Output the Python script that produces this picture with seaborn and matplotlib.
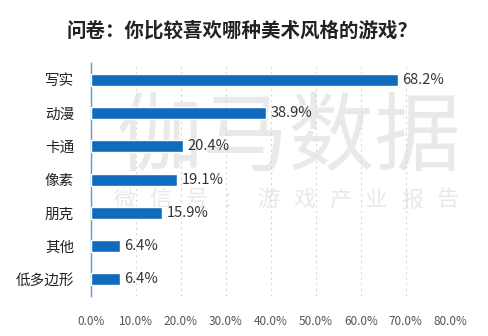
import matplotlib
matplotlib.use("Agg")
import matplotlib.pyplot as plt
import seaborn as sns
import pandas as pd

categories = ["写实", "动漫", "卡通", "像素", "朋克", "其他", "低多边形"]
values = [68.2, 38.9, 20.4, 19.1, 15.9, 6.4, 6.4]
xticks = [0, 10, 20, 30, 40, 50, 60, 70, 80]
title = "问卷：你比较喜欢哪种美术风格的游戏？"
wm_main = "伽马数据"
wm_sub = "微信号：游戏产业报告"

sns.set_theme(style="white")
plt.rcParams['font.family'] = ['Noto Sans CJK SC', 'DejaVu Sans']

df = pd.DataFrame({"cat": categories, "val": values})

fig = plt.figure(figsize=(4.89, 3.36), dpi=100)
ax = fig.add_axes([0.186, 0.119, 0.736, 0.693])
ax.patch.set_alpha(0)

# watermark (behind axes)
wm_color = "#e9e9e9"
fig.text(0.59, 0.585, wm_main, fontsize=62, color=wm_color, ha="center", va="center", zorder=-5)
n = len(wm_sub)
x0, x1 = 125 / 489, 448 / 489
for i, ch in enumerate(wm_sub):
    fig.text(x0 + (x1 - x0) * i / (n - 1), 0.405, ch, fontsize=16, color=wm_color,
             ha="center", va="center", zorder=-5)

sns.barplot(data=df, x="val", y="cat", color="#0f6cbd", saturation=1, width=0.36, ax=ax, zorder=3)

for i, v in enumerate(values):
    ax.text(v + 1.0, i, f"{v:.1f}%", va="center", ha="left", fontsize=10.5, color="#333333", zorder=4)

ax.set_xlim(0, 80)
ax.set_ylim(6.5, -0.5)
ax.set_xticks(xticks)
ax.set_xticklabels([f"{t:.1f}%" for t in xticks], fontsize=8.5, color="#555555")
ax.tick_params(axis="y", labelsize=10.5, colors="#222222", length=0, pad=12)
ax.tick_params(axis="x", length=0, pad=14)
ax.set_xlabel("")
ax.set_ylabel("")
ax.grid(axis="x", color="#d8d8d8", linestyle=(0, (2, 3)), linewidth=0.8, zorder=0)
for s in ["top", "right", "bottom"]:
    ax.spines[s].set_visible(False)
ax.spines["left"].set_color("#5b9bd5")
ax.spines["left"].set_linewidth(1.0)

fig.text(0.495, 0.91, title, ha="center", va="center", fontsize=14, color="#222222", fontweight="bold")

fig.savefig("out.png", dpi=100)
